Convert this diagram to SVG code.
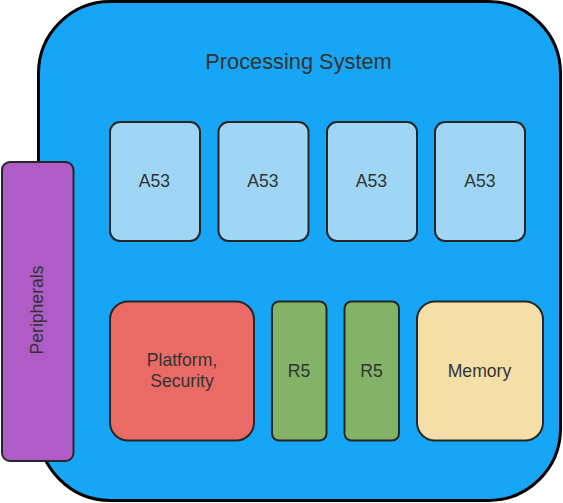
<svg xmlns="http://www.w3.org/2000/svg" width="563" height="503" viewBox="0 0 563 503">
<style>
.box{stroke:#262626;stroke-width:2}
.t{font-family:"Liberation Sans",Arial,sans-serif;font-size:17.6px;fill:#333;text-anchor:middle;dominant-baseline:central}
.a53{fill:#a0d6f5}
.r5{fill:#82b366}
</style>
<g id="ps">
<rect x="38.5" y="1.5" width="522" height="499" rx="72" ry="72" fill="#17a6f5" stroke="#000" stroke-width="3"/>
<text x="298.5" y="61" class="t" style="font-size:21.8px">Processing System</text>
</g>
<g id="a53-1"><rect class="box a53" x="110" y="122" width="90" height="119" rx="10"/><text class="t" x="154.5" y="181">A53</text></g>
<g id="a53-2"><rect class="box a53" x="218.5" y="122" width="90" height="119" rx="10"/><text class="t" x="263" y="181">A53</text></g>
<g id="a53-3"><rect class="box a53" x="327" y="122" width="90" height="119" rx="10"/><text class="t" x="371.5" y="181">A53</text></g>
<g id="a53-4"><rect class="box a53" x="435" y="122" width="90" height="119" rx="10"/><text class="t" x="480" y="181">A53</text></g>
<g id="platform"><rect class="box" x="110" y="301.5" width="144" height="139" rx="18" fill="#ea6b66"/><text class="t" x="182" y="360">Platform,</text><text class="t" x="182" y="381">Security</text></g>
<g id="r5-1"><rect class="box r5" x="272" y="301.5" width="54.5" height="139" rx="7"/><text class="t" x="299" y="371">R5</text></g>
<g id="r5-2"><rect class="box r5" x="344.5" y="301.5" width="54.5" height="139" rx="7"/><text class="t" x="371.5" y="371">R5</text></g>
<g id="memory"><rect class="box" x="417" y="301.5" width="126" height="139" rx="18" fill="#f4dfa9"/><text class="t" x="479.5" y="371">Memory</text></g>
<g id="peripherals"><rect class="box" x="2" y="162" width="71.5" height="299" rx="8" fill="#b05cc6"/><text class="t" transform="translate(37,310) rotate(-90)" x="0" y="0">Peripherals</text></g>
<g id="connectors"/>
</svg>
